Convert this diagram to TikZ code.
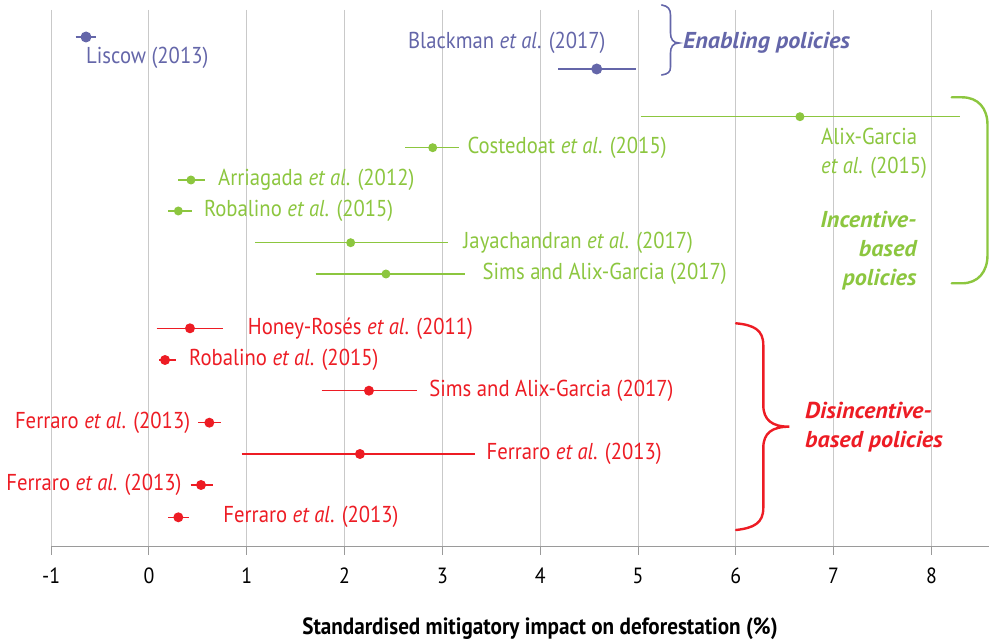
\documentclass[tikz,border=0pt]{standalone}
\usepackage{fontspec}
\setmainfont{PT Sans}[FakeStretch=0.9]
\newfontfamily\grpfont{PT Sans}[FakeStretch=1.05]
\usetikzlibrary{positioning}

\definecolor{enabcol}{HTML}{6466A9}
\definecolor{incencol}{HTML}{8CC63F}
\definecolor{disincol}{HTML}{ED1C24}
\definecolor{gridcol}{HTML}{C9C9C9}
\definecolor{axiscol}{HTML}{9A9A9A}

\begin{document}
\begin{tikzpicture}[x=97.8pt, y=-1pt, every node/.style={inner sep=0pt, font=\fontsize{23}{29.3}\selectfont},
	est/.style={circle, fill, minimum size=#1, inner sep=0pt}, est/.default=9pt,
	bar/.style={line width=1.5pt},
	grp/.style={font=\fontsize{23}{29}\grpfont\bfseries\itshape}]
	\useasboundingbox (-1.5235,0) rectangle (8.589,644);
	% grid, axis and ticks
	\foreach \v in {-1,...,8} {
		\draw[gridcol, line width=1pt] (\v,10) -- (\v,546);
		\draw[axiscol, line width=1pt] (\v,546) -- (\v,555);
		\node[font=\fontsize{22}{26}\selectfont] (tick\v) at (\v,576) {\v};
	}
	\draw[axiscol, line width=1pt] (-1,546) -- (8.589,546);
	\node[font=\fontsize{23.5}{28}\selectfont\bfseries] (xlab) at (3.998,629) {Standardised mitigatory impact on deforestation (\%)};

	% enabling policies
	\begin{scope}[enabcol]
		\foreach \n/\v/\lo/\hi/\y in {lis/-0.644/-0.75/-0.54/37, bla/4.578/4.184/4.98/69} {
			\coordinate (\n-l) at (\lo,\y);
			\coordinate (\n-r) at (\hi,\y);
			\draw[bar] (\n-l) -- (\n-r);
			\node[est=11pt] (\n) at (\v,\y) {};
		}
		\node[anchor=west] (lis-t) at ([yshift=-21pt]lis.center) {Liscow (2013)};
		\node[anchor=east] (bla-t) at ([xshift=9pt, yshift=26pt]bla.center) {Blackman \textit{et al}. (2017)};
		\node[grp, anchor=west] (enab) at (5.46,43) {Enabling policies};
	\end{scope}

	% incentive-based policies
	\begin{scope}[incencol]
		\foreach \n/\v/\lo/\hi/\y in {alix/6.656/5.026/8.29/116.7, cost/2.901/2.618/3.173/147.7,
			arri/0.429/0.3/0.573/180, robg/0.3/0.197/0.443/211,
			jaya/2.062/1.084/3.06/242.7, simg/2.423/1.705/3.231/274} {
			\coordinate (\n-l) at (\lo,\y);
			\coordinate (\n-r) at (\hi,\y);
			\draw[bar] (\n-l) -- (\n-r);
			\node[est] (\n) at (\v,\y) {};
		}
		\node[anchor=north west, align=left] (alix-t) at ([xshift=21pt, yshift=-11pt]alix.center) {Alix-Garcia\\\textit{et al}. (2015)};
		\node[right=8pt of cost-r] (cost-t) {Costedoat \textit{et al}. (2015)};
		\node[right=13pt of arri-r] (arri-t) {Arriagada \textit{et al}. (2012)};
		\node[right=11.5pt of robg-r] (robg-t) {Robalino \textit{et al}. (2015)};
		\node[right=15pt of jaya-r] (jaya-t) {Jayachandran \textit{et al}. (2017)};
		\node[right=17.5pt of simg-r] (simg-t) {Sims and Alix-Garcia (2017)};
		\node[grp, anchor=east, align=right] (incen) at (7.85,251) {Incentive-\\based\\policies};
	\end{scope}

	% disincentive-based policies
	\begin{scope}[disincol]
		\foreach \n/\v/\lo/\hi/\y in {hon/0.419/0.079/0.753/328.3, robr/0.164/0.106/0.276/360,
			simr/2.249/1.766/2.737/390.7, fer1/0.617/0.504/0.736/422.7,
			fer2/2.157/0.948/3.333/454, fer3/0.532/0.426/0.658/485,
			fer4/0.3/0.197/0.412/517.3} {
			\coordinate (\n-l) at (\lo,\y);
			\coordinate (\n-r) at (\hi,\y);
			\draw[bar] (\n-l) -- (\n-r);
			\node[est=10pt] (\n) at (\v,\y) {};
		}
		\node[right=25pt of hon-r] (hon-t) {Honey-Rosés \textit{et al}. (2011)};
		\node[right=13pt of robr-r] (robr-t) {Robalino \textit{et al}. (2015)};
		\node[right=12.5pt of simr-r] (simr-t) {Sims and Alix-Garcia (2017)};
		\node[left=8pt of fer1-l] (fer1-t) {Ferraro \textit{et al}. (2013)};
		\node[right=11.5pt of fer2-r] (fer2-t) {Ferraro \textit{et al}. (2013)};
		\node[left=9pt of fer3-l] (fer3-t) {Ferraro \textit{et al}. (2013)};
		\node[right=34pt of fer4-r] (fer4-t) {Ferraro \textit{et al}. (2013)};
		\node[grp, anchor=west, align=left] (disin) at (6.708,427) {Disincentive-\\based policies};
	\end{scope}

	% braces, in pixel units
	\begin{scope}[x=1pt, xshift=-149pt, line cap=round]
		\draw[enabcol, line width=1.6pt] (661.7,5) .. controls (668,6) and (670.5,9) .. (670.5,15) -- (670.5,33)
			.. controls (670.5,39) and (673,43) .. (679,43) .. controls (673,43) and (670.5,47) .. (670.5,53)
			-- (670.5,67) .. controls (670.5,72) and (668,74) .. (661.7,75);
		\draw[incencol, line width=2.4pt] (951.7,97.3) -- (962,97.3) .. controls (978,97.3) and (987.5,108) .. (987.5,125)
			-- (987.5,255) .. controls (987.5,272) and (978,283.3) .. (962,283.3) -- (951.7,283.3);
		\draw[disincol, line width=2.4pt] (736,323.3) .. controls (754,325) and (763.3,330) .. (763.3,345) -- (763.3,405)
			.. controls (763.3,420) and (772,426.7) .. (789.3,426.7) .. controls (772,426.7) and (763.3,433) .. (763.3,448)
			-- (763.3,508) .. controls (763.3,523) and (754,528) .. (736,530);
	\end{scope}
\end{tikzpicture}
\end{document}
